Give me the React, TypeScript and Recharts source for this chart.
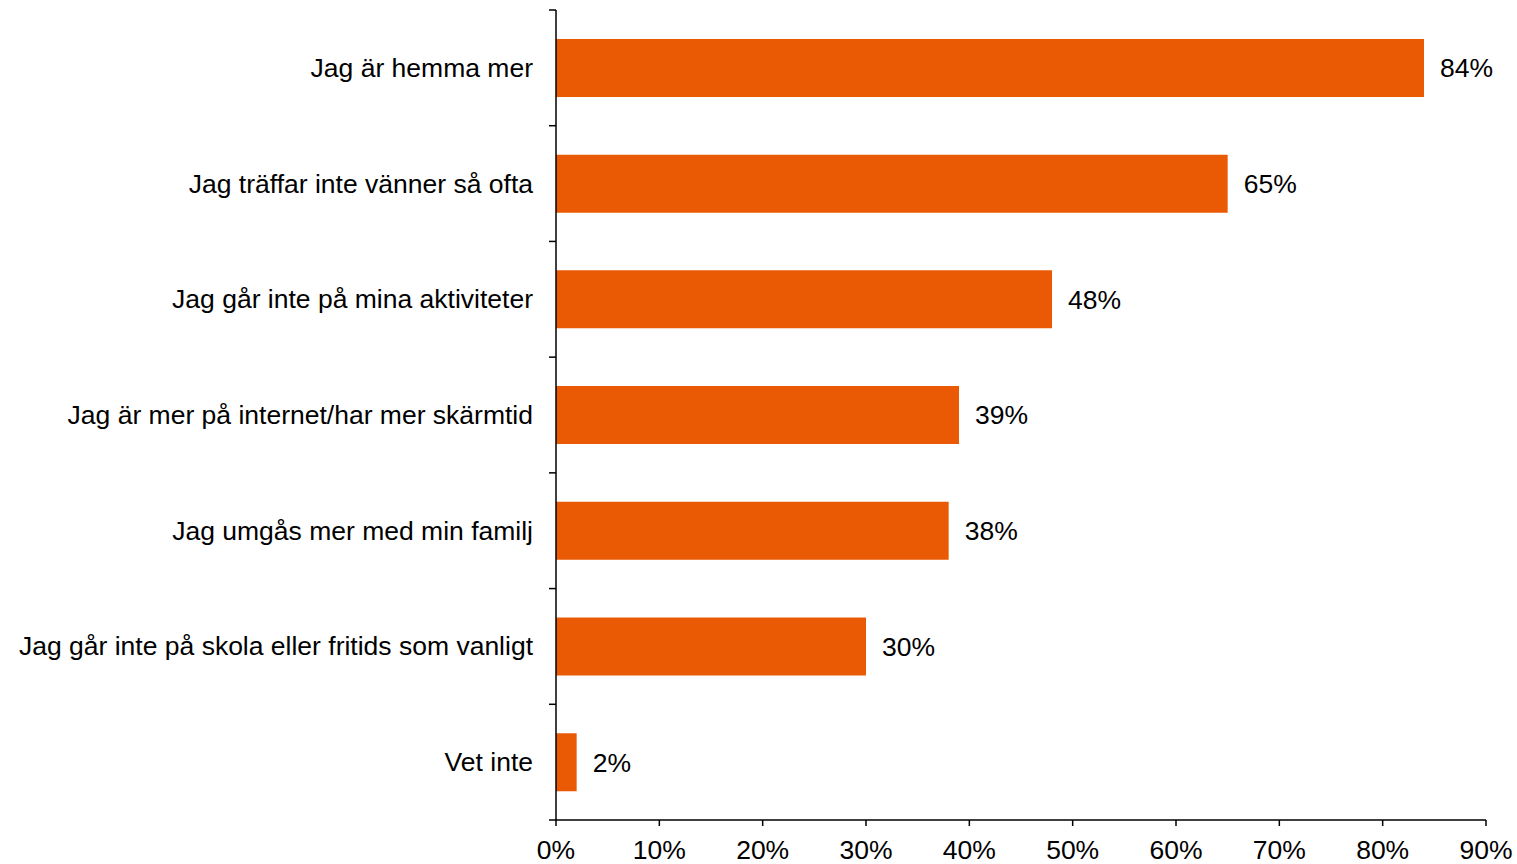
import React from 'react';
import { BarChart, Bar, XAxis, YAxis, LabelList } from 'recharts';

const categories = [
  'Jag är hemma mer',
  'Jag träffar inte vänner så ofta',
  'Jag går inte på mina aktiviteter',
  'Jag är mer på internet/har mer skärmtid',
  'Jag umgås mer med min familj',
  'Jag går inte på skola eller fritids som vanligt',
  'Vet inte',
];
const values = [84, 65, 48, 39, 38, 30, 2];
const xTicks = [0, 10, 20, 30, 40, 50, 60, 70, 80, 90];

const data = categories.map((name, i) => ({ name, value: values[i] }));

const W = 1517;
const H = 864;
const margin = { top: 10, right: 31, bottom: 0, left: 0 };
const xAxisHeight = 44;
const plotHeight = H - margin.top - margin.bottom - xAxisHeight;
const band = plotHeight / categories.length;
const font = '"Liberation Sans", Arial, sans-serif';
const fs = 26.5;

// ticks sit on the band edges, not the centres
function CategoryTick(props: any) {
  const { x, y, payload, index } = props;
  return (
    <g>
      <line x1={x - 7} x2={x} y1={y - band / 2} y2={y - band / 2} stroke="#000" strokeWidth={1.5} />
      {index === categories.length - 1 && (
        <line x1={x - 7} x2={x} y1={y + band / 2} y2={y + band / 2} stroke="#000" strokeWidth={1.5} />
      )}
      <text x={x - 23} y={y} textAnchor="end" dominantBaseline="central" fontSize={fs} fill="#000" fontFamily={font}>
        {payload.value}
      </text>
    </g>
  );
}

export default function App() {
  return (
    <div style={{ position: 'absolute', left: 0, top: 0, width: W, height: H, background: '#fff' }}>
      <BarChart
        width={W}
        height={H}
        data={data}
        layout="vertical"
        margin={margin}
        barCategoryGap="25%"
      >
        <XAxis
          type="number"
          domain={[0, 90]}
          ticks={xTicks}
          interval={0}
          height={xAxisHeight}
          tickFormatter={(v: number) => `${v}%`}
          tick={{ fontSize: fs, fill: '#000', fontFamily: font }}
          tickSize={6}
          tickMargin={14}
          axisLine={{ stroke: '#000', strokeWidth: 1.5 }}
          tickLine={{ stroke: '#000', strokeWidth: 1.5 }}
        />
        <YAxis
          type="category"
          dataKey="name"
          width={556}
          interval={0}
          tick={<CategoryTick />}
          tickLine={false}
          tickSize={0}
          tickMargin={0}
          axisLine={{ stroke: '#000', strokeWidth: 1.5 }}
        />
        <Bar dataKey="value" fill="#EA5A04" isAnimationActive={false}>
          <LabelList
            dataKey="value"
            position="right"
            offset={16}
            formatter={(v: any) => `${v}%`}
            style={{ fontSize: fs, fill: '#000', fontFamily: font }}
          />
        </Bar>
      </BarChart>
    </div>
  );
}
